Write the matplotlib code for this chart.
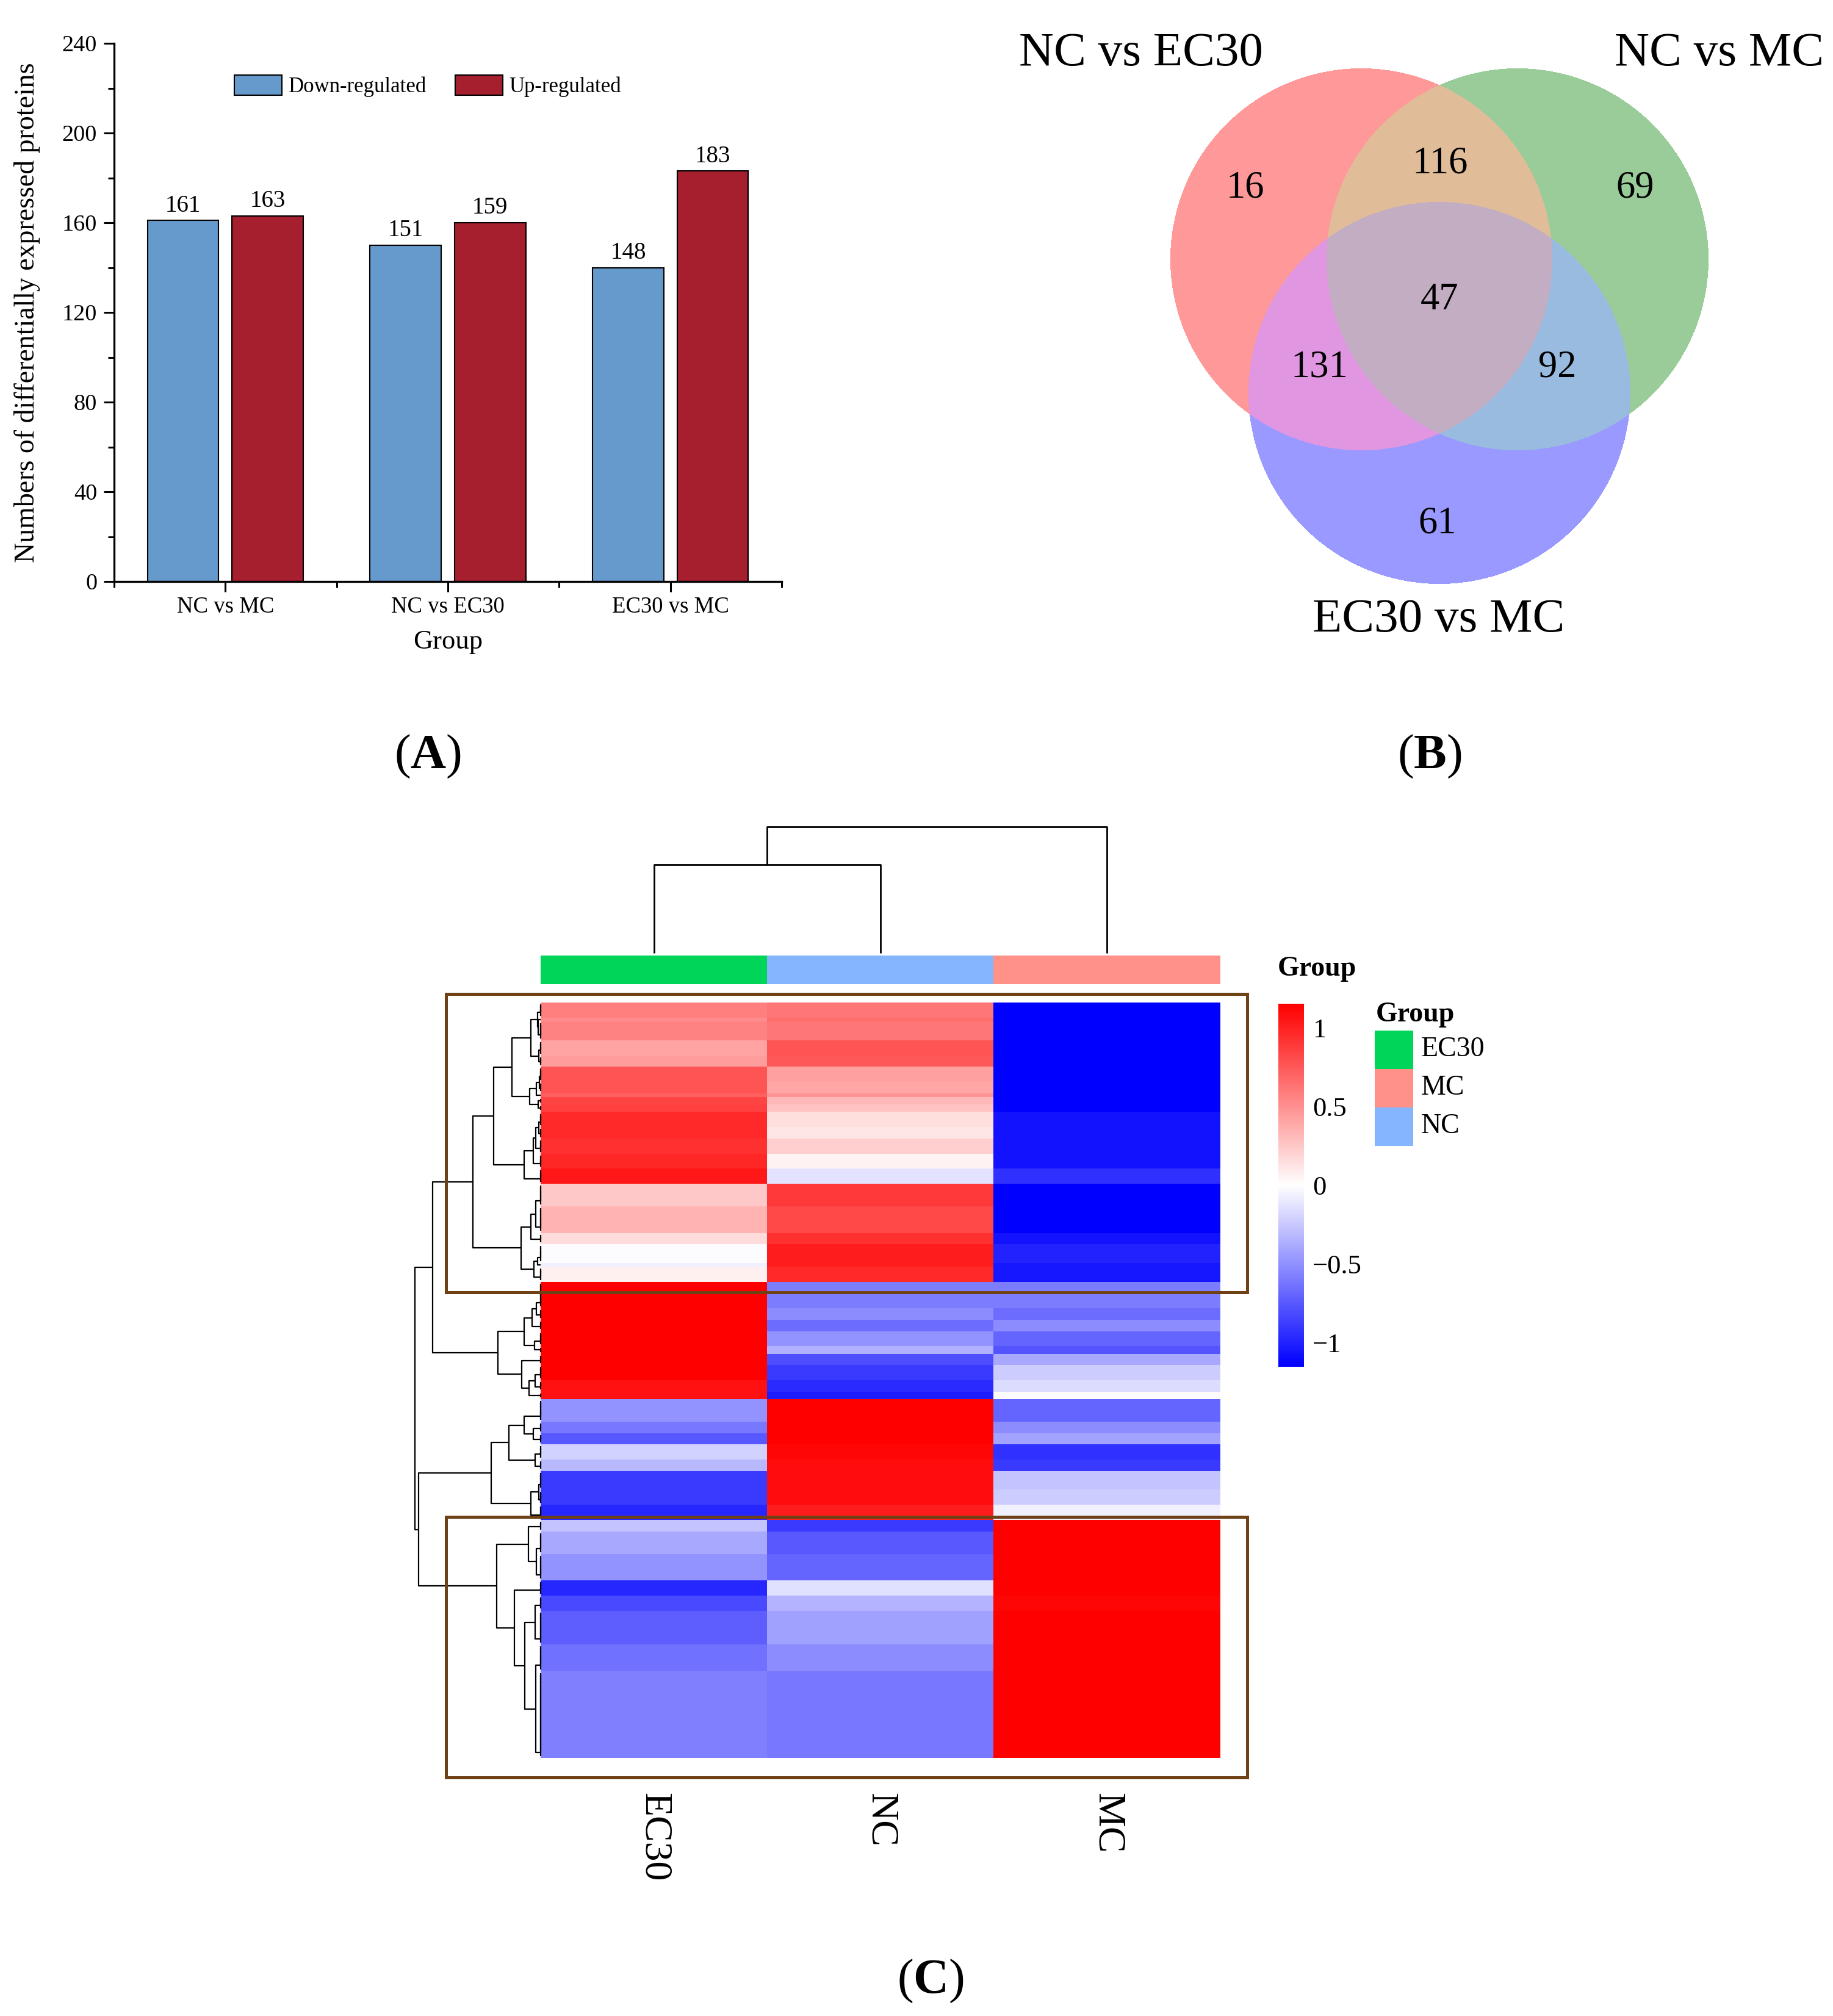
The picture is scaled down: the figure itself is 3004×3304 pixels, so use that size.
import numpy as np
import matplotlib
matplotlib.use("Agg")
import matplotlib.pyplot as plt
from matplotlib.patches import Rectangle
from matplotlib.collections import LineCollection

plt.rcParams['font.family'] = ['Liberation Serif', 'DejaVu Serif']
plt.rcParams['mathtext.fontset'] = 'custom'
plt.rcParams['mathtext.rm'] = 'Liberation Serif'
plt.rcParams['mathtext.bf'] = 'Liberation Serif:bold'

W, H = 3004, 3304

# ---------------- panel A: numbers of DEPs
groups = ["NC vs MC", "NC vs EC30", "EC30 vs MC"]
down_counts = [161, 150, 140]
up_counts = [163, 160, 183]
down_labels = [161, 151, 148]
up_labels = [163, 159, 183]

# ---------------- panel B: venn
venn_titles = ["NC vs EC30", "NC vs MC", "EC30 vs MC"]
venn_regions = ["100", "110", "010", "111", "101", "011", "001"]
venn_counts = [16, 116, 69, 47, 131, 92, 61]

# ---------------- panel C: heatmap (row z-scores, bands of equal rows)
sample_names = ["EC30", "NC", "MC"]
band_rows = [4, 1, 5, 4, 3, 4, 3, 1, 2, 2, 4, 3, 4, 4, 4,
             6, 7, 3, 5, 1, 4,
             7, 3, 3, 4, 2, 3, 4, 3, 2,
             6, 3, 3, 4, 3, 5, 4, 4,
             3, 6, 7, 4, 4, 9, 7, 23]
band_ec30 = [0.58, 0.52, 0.56, 0.41, 0.45, 0.77, 0.77, 0.71, 0.84, 0.86, 0.96, 0.96, 0.93, 0.98, 1.05,
             0.25, 0.34, 0.16, -0.01, -0.07, 0.07,
             1.15, 1.15, 1.15, 1.15, 1.15, 1.15, 1.15, 1.07, 1.07,
             -0.48, -0.61, -0.75, -0.20, -0.32, -0.89, -0.89, -0.98,
             -0.27, -0.39, -0.48, -0.98, -0.82, -0.73, -0.64, -0.57]
band_nc = [0.62, 0.66, 0.62, 0.77, 0.75, 0.43, 0.40, 0.48, 0.32, 0.27, 0.15, 0.11, 0.22, 0.06, -0.12,
           0.89, 0.82, 0.93, 1.02, 1.02, 0.96,
           -0.59, -0.52, -0.66, -0.48, -0.36, -0.80, -0.89, -0.96, -1.02,
           1.15, 1.15, 1.15, 1.12, 1.10, 1.10, 1.10, 1.02,
           -0.89, -0.75, -0.70, -0.14, -0.34, -0.43, -0.52, -0.61]
band_mc = [-1.15, -1.15, -1.15, -1.15, -1.15, -1.15, -1.15, -1.15, -1.15, -1.15, -1.07, -1.07, -1.07, -1.07, -0.93,
           -1.15, -1.15, -1.07, -1.00, -1.05, -1.05,
           -0.59, -0.66, -0.52, -0.70, -0.77, -0.39, -0.23, -0.16, -0.01,
           -0.70, -0.52, -0.41, -0.93, -0.89, -0.27, -0.23, -0.07,
           1.15, 1.15, 1.15, 1.15, 1.12, 1.15, 1.15, 1.15]
group_colors = {"EC30": "#00D55A", "MC": "#FF9189", "NC": "#85B5FF"}


def box(x0, y0, x1, y1):
    return [x0 / W, 1 - y1 / H, (x1 - x0) / W, (y1 - y0) / H]


def adjacent_complete_linkage(data):
    # complete linkage, euclidean, only merging neighbours so the given order is kept
    n = len(data)
    dist = np.sqrt(((data[:, None, :] - data[None, :, :]) ** 2).sum(-1))
    clusters = [(i, i + 1) for i in range(n)]
    nodes = [(float(i), 0.0) for i in range(n)]
    gaps = [dist[i, i + 1] for i in range(n - 1)]
    links = []
    while len(clusters) > 1:
        k = int(np.argmin(gaps))
        (p1, h1), (p2, h2) = nodes[k], nodes[k + 1]
        h = gaps[k]
        links.append((p1, h1, p2, h2, h))
        clusters[k:k + 2] = [(clusters[k][0], clusters[k + 1][1])]
        nodes[k:k + 2] = [((p1 + p2) / 2, h)]
        del gaps[k]
        if k > 0:
            a, b = clusters[k - 1], clusters[k]
            gaps[k - 1] = dist[a[0]:a[1], b[0]:b[1]].max()
        if k < len(clusters) - 1:
            a, b = clusters[k], clusters[k + 1]
            gaps[k] = dist[a[0]:a[1], b[0]:b[1]].max()
    return links


fig = plt.figure(figsize=(W / 100, H / 100), dpi=100)

# ================= (A) bar chart
ax = fig.add_axes(box(187, 71, 1281, 953))
x = np.arange(1, len(groups) + 1)
ax.bar(x - 0.19, down_counts, width=0.32, color='#6699CC', edgecolor='black', linewidth=1.5,
       label='Down-regulated')
ax.bar(x + 0.19, up_counts, width=0.32, color='#A51F2E', edgecolor='black', linewidth=1.5,
       label='Up-regulated')
for xi, h, lab in zip(x - 0.19, down_counts, down_labels):
    ax.annotate(str(lab), (xi, h), xytext=(0, 4), textcoords='offset points',
                ha='center', va='bottom', fontsize=28)
for xi, h, lab in zip(x + 0.19, up_counts, up_labels):
    ax.annotate(str(lab), (xi, h), xytext=(0, 4), textcoords='offset points',
                ha='center', va='bottom', fontsize=28)
ax.set_xlim(0.5, 3.5)
ax.set_ylim(0, 240)
ax.set_yticks(np.arange(0, 241, 40))
ax.set_yticks(np.arange(20, 240, 40), minor=True)
ax.set_xticks(x)
ax.set_xticks([0.5, 1.5, 2.5, 3.5], minor=True)
ax.set_xticklabels(groups)
for s in ['top', 'right']:
    ax.spines[s].set_visible(False)
for s in ['left', 'bottom']:
    ax.spines[s].set_linewidth(2.4)
ax.tick_params(which='major', direction='out', length=12, width=2.2, labelsize=27.5)
ax.tick_params(axis='y', which='major', pad=8)
ax.tick_params(axis='x', which='major', pad=6, labelsize=26.5)
ax.tick_params(which='minor', direction='out', length=7, width=2.2)
ax.set_ylabel('Numbers of differentially expressed proteins', fontsize=33, labelpad=26)
ax.set_xlabel('Group', fontsize=32, labelpad=14)
ax.legend(loc='center left', bbox_to_anchor=(384 / W, 1 - 141 / H), bbox_transform=fig.transFigure,
          ncol=2, frameon=False, fontsize=25, borderpad=0, borderaxespad=0,
          handlelength=2.25, handleheight=1.12, handletextpad=0.3, columnspacing=1.35)

# ================= (B) venn
vax = fig.add_axes(box(1600, 0, 3004, 1100))
vax.set_xlim(1600, 3004)
vax.set_ylim(1100, 0)
vax.axis('off')
centers = [(2231, 425), (2487, 425), (2359, 644)]
radius = 313
gx, gy = np.meshgrid(np.arange(1600, 3004) + 0.5, np.arange(0, 1100) + 0.5)
code = np.zeros(gx.shape, dtype=int)
for bit, (cx, cy) in enumerate(centers):
    code += (((gx - cx) ** 2 + (gy - cy) ** 2) <= radius ** 2).astype(int) << bit
region_colors = np.array([
    [255, 255, 255, 0],
    [255, 153, 153, 255],   # red only
    [153, 204, 153, 255],   # green only
    [224, 189, 152, 255],   # red & green
    [153, 153, 255, 255],   # blue only
    [224, 150, 224, 255],   # red & blue
    [153, 187, 224, 255],   # green & blue
    [194, 173, 194, 255],   # all
]) / 255.0
vax.imshow(region_colors[code], extent=(1600, 3004, 1100, 0), interpolation='antialiased')
venn_label_pos = {"100": (2041, 309), "110": (2360, 269), "010": (2680, 309), "111": (2359, 492),
                  "101": (2162, 603), "011": (2552, 603), "001": (2356, 859)}
for reg, cnt in zip(venn_regions, venn_counts):
    px, py = venn_label_pos[reg]
    vax.text(px, py, str(cnt), ha='center', va='center', fontsize=45)
vax.text(1870, 88, venn_titles[0], ha='center', va='center', fontsize=57)
vax.text(2817, 88, venn_titles[1], ha='center', va='center', fontsize=57)
vax.text(2358, 1016, venn_titles[2], ha='center', va='center', fontsize=57)

# ================= (C) heatmap
mat = np.column_stack([np.repeat(band_ec30, band_rows),
                       np.repeat(band_nc, band_rows),
                       np.repeat(band_mc, band_rows)])
n_rows = mat.shape[0]
zlim = 1.155

hax = fig.add_axes(box(886, 1643, 2000, 2881))
im = hax.imshow(mat, cmap='bwr', vmin=-zlim, vmax=zlim, aspect='auto', interpolation='nearest')
hax.axis('off')

# row dendrogram
row_links = adjacent_complete_linkage(mat)
rax = fig.add_axes(box(680, 1643, 886, 2881))
segs = [[(h1, p1), (h, p1), (h, p2), (h2, p2)] for p1, h1, p2, h2, h in row_links]
rax.add_collection(LineCollection(segs, colors='black', linewidths=1.6, clip_on=False))
rax.set_xlim(row_links[-1][4], 0)
rax.set_ylim(n_rows - 0.5, -0.5)
rax.axis('off')

# column dendrogram
col_links = adjacent_complete_linkage(mat.T)
cax_d = fig.add_axes(box(886, 1355, 2000, 1562))
segs = [[(p1, h1), (p1, h), (p2, h), (p2, h2)] for p1, h1, p2, h2, h in col_links]
cax_d.add_collection(LineCollection(segs, colors='black', linewidths=2, clip_on=False))
cax_d.set_xlim(-0.5, len(sample_names) - 0.5)
cax_d.set_ylim(0, col_links[-1][4])
cax_d.axis('off')

# annotation bar
aax = fig.add_axes(box(886, 1566, 2000, 1613))
ann = np.array([[matplotlib.colors.to_rgb(group_colors[s]) for s in sample_names]])
aax.imshow(ann, aspect='auto', interpolation='nearest')
aax.axis('off')

# column labels
for i, s in enumerate(sample_names):
    xc = 886 + (i + 0.5) * (2000 - 886) / len(sample_names)
    fig.text(xc / W, 1 - 2938 / H, s, rotation=270, ha='center', va='top', fontsize=46)

# highlight boxes
for y0, y1 in [(1629, 2118), (2486, 2913)]:
    fig.patches.append(Rectangle((731 / W, 1 - y1 / H), (2044 - 731) / W, (y1 - y0) / H,
                                 transform=fig.transFigure, fill=False, edgecolor='#6E4216',
                                 linewidth=3.6))

# colour scale
cbax = fig.add_axes(box(2095, 1645, 2137, 2240))
cb = fig.colorbar(im, cax=cbax, ticks=[-1, -0.5, 0, 0.5, 1])
cb.outline.set_visible(False)
cb.set_ticklabels(['\u22121', '\u22120.5', '0', '0.5', '1'])
cbax.tick_params(length=0, labelsize=32, pad=10)
fig.text(2094 / W, 1 - 1588 / H, 'Group', fontweight='bold', fontsize=33, ha='left', va='center')

# group legend
fig.text(2255 / W, 1 - 1663 / H, 'Group', fontweight='bold', fontsize=33, ha='left', va='center')
for i, s in enumerate(["EC30", "MC", "NC"]):
    y0 = 1689 + i * 63
    fig.patches.append(Rectangle((2253 / W, 1 - (y0 + 63) / H), 63 / W, 63 / H,
                                 transform=fig.transFigure, facecolor=group_colors[s], edgecolor='none'))
    fig.text(2329 / W, 1 - (y0 + 31) / H, s, fontsize=33, ha='left', va='center')

# panel letters
fig.text(701 / W, 1 - 1240 / H, r'($\mathbf{A}$)', fontsize=58, ha='center', va='center')
fig.text(2343 / W, 1 - 1240 / H, r'($\mathbf{B}$)', fontsize=58, ha='center', va='center')
fig.text(1525 / W, 1 - 3247 / H, r'($\mathbf{C}$)', fontsize=58, ha='center', va='center')

fig.savefig('out.png', dpi=100)
